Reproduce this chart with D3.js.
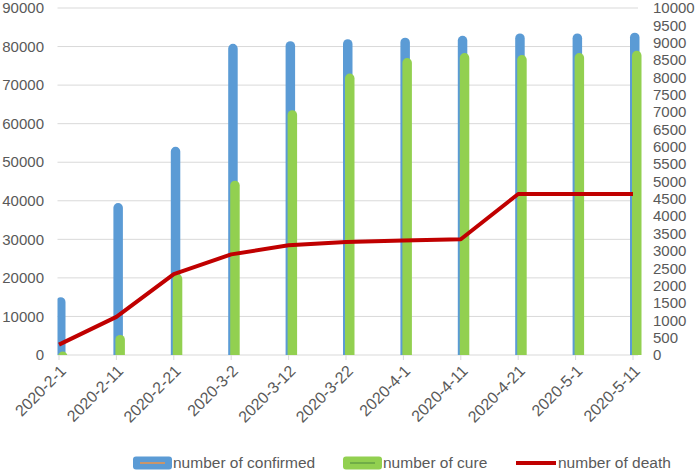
<!DOCTYPE html>
<html>
<head>
<meta charset="utf-8">
<script src="https://cdn.jsdelivr.net/npm/d3@7"></script>
<style>
  body { margin: 0; background: #fff; }
  text { font-family: "Liberation Sans", Arial, sans-serif; fill: #595959; }
</style>
</head>
<body>
<div id="chart"></div>
<script>
// data
const dates = ['2020-2-1', '2020-2-11', '2020-2-21', '2020-3-2', '2020-3-12', '2020-3-22',
               '2020-4-1', '2020-4-11', '2020-4-21', '2020-5-1', '2020-5-11']
const confirmed = [15000, 39400, 54000, 80700, 81400, 81900, 82300, 82800, 83400, 83400, 83600]
const cure = [900, 5200, 21000, 45200, 63500, 73000, 77000, 78300, 77800, 78300, 78900]
const death = [300, 1100, 2330, 2900, 3160, 3255, 3300, 3335, 4640, 4640, 4640]
const leftTicks = d3.range(0, 90001, 10000)
const rightTicks = d3.range(0, 10001, 500)
const seriesNames = ['number of confirmed', 'number of cure', 'number of death']

const width = 697, height = 472
const plot = { left: 57.5, right: 638, top: 8, bottom: 355 }

const svg = d3.select('#chart').append('svg')
    .attr('width', width)
    .attr('height', height)

const x = d3.scalePoint().domain(dates).range([59, 633])
const yL = d3.scaleLinear().domain([0, 90000]).range([plot.bottom, plot.top])
const yR = d3.scaleLinear().domain([0, 10000]).range([plot.bottom, plot.top])

// grid lines
svg.append('g').selectAll('line')
    .data(leftTicks)
    .enter().append('line')
    .attr('x1', plot.left).attr('x2', plot.right)
    .attr('y1', d => yL(d)).attr('y2', d => yL(d))
    .attr('stroke', '#d9d9d9').attr('stroke-width', 1)

// left axis labels
svg.append('g').selectAll('text')
    .data(leftTicks)
    .enter().append('text')
    .attr('x', 44).attr('y', d => yL(d)).attr('dy', '0.35em')
    .attr('text-anchor', 'end')
    .style('font-size', '15px')
    .text(d => d)

// right axis labels
svg.append('g').selectAll('text')
    .data(rightTicks)
    .enter().append('text')
    .attr('x', 653).attr('y', d => yR(d)).attr('dy', '0.35em')
    .style('font-size', '15px')
    .text(d => d)

// x tick marks
svg.append('g').selectAll('line')
    .data(dates)
    .enter().append('line')
    .attr('x1', d => x(d)).attr('x2', d => x(d))
    .attr('y1', plot.bottom).attr('y2', plot.bottom + 5)
    .attr('stroke', '#d9d9d9')

// x labels, rotated
svg.append('g').selectAll('text')
    .data(dates)
    .enter().append('text')
    .attr('transform', d => 'translate(' + (x(d) + 4) + ',' + (plot.bottom + 13) + ') rotate(-45)')
    .attr('text-anchor', 'end')
    .attr('dy', '0.35em')
    .style('font-size', '16px')
    .text(d => d)

svg.append('clipPath').attr('id', 'plotclip')
    .append('rect')
    .attr('x', plot.left).attr('y', 0)
    .attr('width', width - plot.left).attr('height', plot.bottom)

// bar with rounded top
function barPath(x0, w, yTop, yBot) {
    const r = w / 2
    return 'M' + x0 + ',' + yBot +
        'V' + (yTop + r) +
        'A' + r + ',' + r + ' 0 0 1 ' + (x0 + w) + ',' + (yTop + r) +
        'V' + yBot + 'Z'
}

const bars = svg.append('g').attr('clip-path', 'url(#plotclip)')

bars.selectAll('.confirmed')
    .data(confirmed)
    .enter().append('path')
    .attr('class', 'confirmed')
    .attr('d', (d, i) => barPath(x(dates[i]) - 3, 9.5, yL(d), plot.bottom))
    .attr('fill', '#5b9bd5')

bars.selectAll('.cure')
    .data(cure)
    .enter().append('path')
    .attr('class', 'cure')
    .attr('d', (d, i) => barPath(x(dates[i]) - 1, 9.5, yL(d), plot.bottom))
    .attr('fill', '#92d050')

// death line
const line = d3.line()
    .x((d, i) => x(dates[i]))
    .y(d => yR(d))

svg.append('path')
    .datum(death)
    .attr('d', line)
    .attr('fill', 'none')
    .attr('stroke', '#c00000')
    .attr('stroke-width', 4)
    .attr('stroke-linejoin', 'round')

// legend
const legend = svg.append('g')
const ly = 463
legend.append('rect')
    .attr('x', 133).attr('y', ly - 6.5).attr('width', 39).attr('height', 13).attr('rx', 3)
    .attr('fill', '#5b9bd5')
legend.append('line')
    .attr('x1', 140).attr('x2', 165).attr('y1', ly).attr('y2', ly)
    .attr('stroke', '#c9956a').attr('stroke-width', 2)
legend.append('text').attr('x', 173).attr('y', ly).attr('dy', '0.35em')
    .style('font-size', '15.5px').text(seriesNames[0])

legend.append('rect')
    .attr('x', 343).attr('y', ly - 6.5).attr('width', 39).attr('height', 13).attr('rx', 3)
    .attr('fill', '#92d050')
legend.append('line')
    .attr('x1', 350).attr('x2', 375).attr('y1', ly).attr('y2', ly)
    .attr('stroke', '#70ad47').attr('stroke-width', 2)
legend.append('text').attr('x', 383).attr('y', ly).attr('dy', '0.35em')
    .style('font-size', '15.5px').text(seriesNames[1])

legend.append('line')
    .attr('x1', 516).attr('x2', 556).attr('y1', ly).attr('y2', ly)
    .attr('stroke', '#c00000').attr('stroke-width', 4)
legend.append('text').attr('x', 558).attr('y', ly).attr('dy', '0.35em')
    .style('font-size', '15.5px').text(seriesNames[2])
</script>
</body>
</html>
